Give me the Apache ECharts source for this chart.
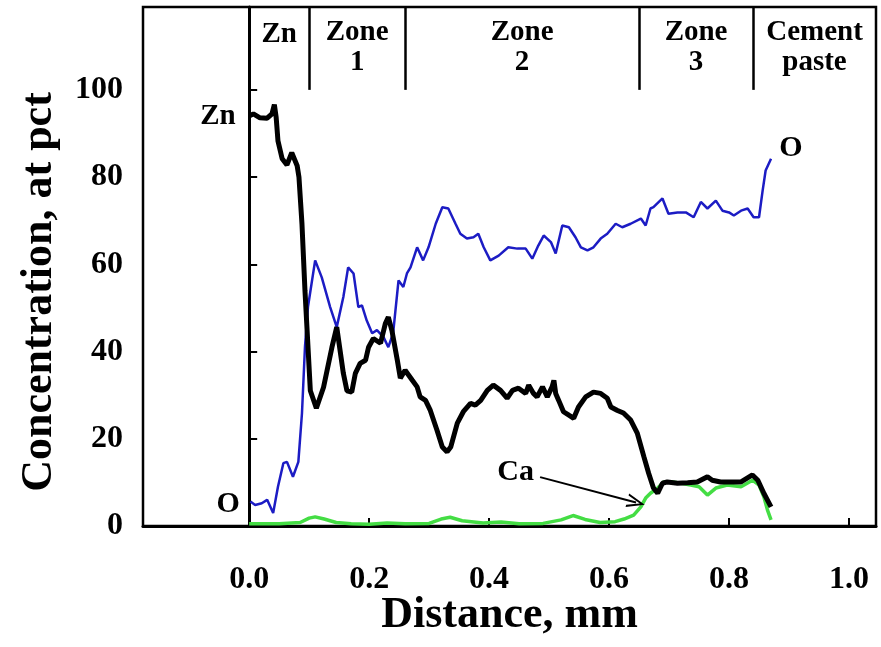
<!DOCTYPE html>
<html>
<head>
<meta charset="utf-8">
<script src="https://cdn.jsdelivr.net/npm/echarts@6/dist/echarts.min.js"></script>
<style>
  html, body { margin: 0; padding: 0; background: #fff; }
  #main { width: 881px; height: 647px; }
</style>
</head>
<body>
<div id="main"></div>
<script>
// ---- data read from the profile (distance in mm, concentration in at pct)
var znDist = [0, 0.007, 0.018, 0.03, 0.038, 0.042, 0.045, 0.048, 0.055, 0.063, 0.071, 0.08, 0.083, 0.088, 0.093,
  0.102, 0.112, 0.124, 0.138, 0.146, 0.157, 0.163, 0.171, 0.177, 0.185, 0.194, 0.199, 0.207, 0.219, 0.227, 0.232,
  0.238, 0.247, 0.252, 0.26, 0.272, 0.28, 0.285, 0.294, 0.302, 0.313, 0.322, 0.33, 0.336, 0.347, 0.357, 0.369,
  0.377, 0.386, 0.397, 0.407, 0.419, 0.43, 0.439, 0.449, 0.461, 0.466, 0.474, 0.48, 0.489, 0.497, 0.505, 0.508,
  0.511, 0.516, 0.524, 0.533, 0.541, 0.549, 0.561, 0.574, 0.586, 0.597, 0.603, 0.614, 0.624, 0.636, 0.647, 0.658,
  0.666, 0.674, 0.681, 0.689, 0.697, 0.714, 0.731, 0.747, 0.764, 0.772, 0.786, 0.803, 0.82, 0.839, 0.848, 0.858, 0.87];
var znConc = [94, 94.5, 93.6, 93.5, 94.5, 96.6, 93.7, 88.3, 84.2, 82.8, 85.6, 82.6, 80, 69.3, 54,
  31, 27, 31.8, 41, 45.6, 35, 31, 30.7, 35, 37.3, 38, 41, 43, 41.9, 46.4, 47.9,
  44.8, 38, 33.9, 35.7, 33.4, 31.9, 29.6, 28.8, 26.5, 22, 18.1, 17, 18.1, 23.6, 26.2, 28.1,
  27.7, 28.8, 31.1, 32.3, 31.1, 29.3, 31.1, 31.6, 30.4, 32.3, 30.4, 29.6, 31.9, 29.6, 31.9, 33.4,
  30.4, 28.8, 26.2, 25.4, 24.7, 27.3, 29.6, 30.7, 30.4, 29.3, 27.3, 26.5, 25.9, 24.3, 21.3, 15.9,
  12.1, 8.7, 7.5, 9.8, 10.1, 9.8, 9.9, 10.1, 11.3, 10.5, 10.1, 10.1, 10.1, 11.7, 10.5, 7.5, 4.4];

var oDist = [0.002, 0.01, 0.021, 0.03, 0.04, 0.048, 0.057, 0.063, 0.073, 0.082, 0.088, 0.093, 0.098, 0.11, 0.121,
  0.135, 0.146, 0.157, 0.165, 0.174, 0.182, 0.188, 0.196, 0.205, 0.213, 0.224, 0.232, 0.24, 0.249, 0.257, 0.263,
  0.269, 0.28, 0.29, 0.299, 0.311, 0.322, 0.332, 0.344, 0.352, 0.363, 0.374, 0.382, 0.391, 0.402, 0.416, 0.432,
  0.447, 0.461, 0.472, 0.482, 0.491, 0.503, 0.511, 0.522, 0.533, 0.544, 0.553, 0.564, 0.574, 0.586, 0.597, 0.611,
  0.622, 0.636, 0.653, 0.661, 0.669, 0.674, 0.689, 0.699, 0.714, 0.728, 0.741, 0.753, 0.764, 0.778, 0.789, 0.8,
  0.808, 0.82, 0.831, 0.841, 0.85, 0.856, 0.861, 0.87];
var oConc = [5.6, 4.8, 5.2, 6, 3, 9, 14.4, 14.7, 11.3, 14.7, 25.8, 41, 50.2, 60.9, 57,
  50.2, 45.6, 52.5, 59.3, 57.9, 50.2, 50.6, 47.1, 44.2, 44.9, 43.3, 41, 44.2, 56.3, 54.8, 57.9,
  59.3, 63.9, 60.9, 63.9, 69.3, 73.1, 72.8, 69.3, 67, 65.9, 66.2, 67, 63.9, 60.9, 62, 63.9,
  63.6, 63.6, 61.3, 64.3, 66.6, 65.1, 62.5, 68.9, 68.5, 66.2, 63.9, 63.2, 63.9, 65.9, 67, 69.3,
  68.5, 69.3, 70.5, 68.9, 72.8, 73.1, 75.1, 71.6, 71.9, 71.9, 70.8, 74.3, 72.8, 74.6, 72.3, 71.9,
  71.2, 72.3, 72.8, 70.8, 70.8, 76.9, 81.5, 84.2];

var caDist = [0, 0.05, 0.085, 0.1, 0.11, 0.125, 0.145, 0.17, 0.2, 0.23, 0.26, 0.3, 0.32, 0.335, 0.355,
  0.39, 0.42, 0.45, 0.49, 0.52, 0.54, 0.56, 0.585, 0.61, 0.625, 0.641, 0.653, 0.661, 0.669, 0.681,
  0.691, 0.706, 0.72, 0.736, 0.75, 0.764, 0.778, 0.797, 0.82, 0.839, 0.85, 0.858, 0.864, 0.87];
var caConc = [0.5, 0.5, 0.8, 1.8, 2.1, 1.6, 0.8, 0.5, 0.4, 0.7, 0.5, 0.6, 1.6, 2.0, 1.2,
  0.7, 0.9, 0.5, 0.6, 1.4, 2.4, 1.5, 0.8, 1.0, 1.6, 2.5, 4.4, 6.4, 7.5, 8.7,
  10.1, 10.1, 9.8, 9.4, 9, 7.1, 8.7, 9.4, 9, 10.5, 9.4, 6.7, 3.7, 1.4];

var xTicks = [0, 0.2, 0.4, 0.6, 0.8, 1.0];
var zoneBounds = [0, 0.1, 0.26, 0.65, 0.84];
var zoneNames = ['Zn', 'Zone\n1', 'Zone\n2', 'Zone\n3', 'Cement\npaste'];

var X_MIN = -0.177, X_MAX = 1.045, Y_MAX = 119;

function pairs(xs, ys) {
  return xs.map(function(x, i) { return [x, ys[i]]; });
}

var FONT = '"Liberation Serif", "Times New Roman", serif';

// zone header separators and titles
var sepLines = zoneBounds.map(function(b) {
  return [{ coord: [b, 100] }, { coord: [b, Y_MAX] }];
});
var zoneEdges = zoneBounds.concat([X_MAX]);
var zoneTitles = zoneNames.map(function(n, i) {
  var mid = (zoneEdges[i] + zoneEdges[i + 1]) / 2;
  var y = n.indexOf('\n') >= 0 ? 109.8 : 112.8;
  return { coord: [mid, y], value: n, label: { formatter: n } };
});

var labelStyle = {
  show: true, color: '#000', fontFamily: FONT, fontWeight: 'bold', fontSize: 30
};

// open arrow head (tip at top)
var openArrow = 'path://M5,0 L10,14 L8.4,14 L5,4 L1.6,14 L0,14 Z';

var chart = echarts.init(document.getElementById('main'));
var option = {
  backgroundColor: '#fff',
  animation: false,
  grid: {
    left: 143, right: 5, top: 7, bottom: 121, outerBoundsMode: 'none',
    show: true, borderColor: '#000', borderWidth: 2.5, backgroundColor: 'transparent'
  },
  xAxis: {
    type: 'value', min: X_MIN, max: X_MAX,
    name: 'Distance, mm', nameLocation: 'middle', nameGap: 68, nameMoveOverlap: false,
    nameTextStyle: { color: '#000', fontFamily: FONT, fontWeight: 'bold', fontSize: 44 },
    axisLine: { onZero: false, lineStyle: { color: '#000', width: 3 } },
    axisTick: { show: true, inside: true, length: 8, customValues: xTicks, lineStyle: { color: '#000', width: 2 } },
    axisLabel: {
      customValues: xTicks, margin: 38, color: '#000', fontFamily: FONT, fontWeight: 'bold', fontSize: 32,
      formatter: function(v) { return v.toFixed(1); }
    },
    splitLine: { show: false }
  },
  yAxis: {
    type: 'value', min: 0, max: Y_MAX, interval: 20,
    axisLine: { lineStyle: { color: '#000', width: 3 } },
    axisTick: { inside: true, length: 8, lineStyle: { color: '#000', width: 2 } },
    axisLabel: {
      margin: 20, color: '#000', fontFamily: FONT, fontWeight: 'bold', fontSize: 32,
      formatter: function(v) { return v > 100 ? '' : v; }
    },
    splitLine: { show: false }
  },
  graphic: [{
    type: 'text', x: 40, y: 292, rotation: Math.PI / 2,
    style: {
      text: 'Concentration, at pct', fill: '#000', font: 'bold 44px ' + FONT,
      textAlign: 'center', textVerticalAlign: 'middle'
    }
  }],
  series: [
    {
      name: 'Ca', type: 'line', data: pairs(caDist, caConc), showSymbol: false,
      lineStyle: { color: '#44dd44', width: 3.5 }, itemStyle: { color: '#44dd44' }, z: 2,
      markLine: {
        silent: true, symbol: ['none', openArrow], symbolSize: [14, 18],
        lineStyle: { color: '#000', width: 2, type: 'solid' }, label: { show: false },
        data: [[{ coord: [0.485, 11.2] }, { coord: [0.645, 5.4] }]]
      },
      markPoint: {
        symbol: 'circle', symbolSize: 0, silent: true,
        label: Object.assign({}, labelStyle, { position: 'left', formatter: 'Ca' }),
        data: [{ coord: [0.483, 12.4] }]
      }
    },
    {
      name: 'O', type: 'line', data: pairs(oDist, oConc), showSymbol: false,
      lineStyle: { color: '#1c1cc4', width: 2.5 }, itemStyle: { color: '#1c1cc4' }, z: 3,
      markPoint: {
        symbol: 'circle', symbolSize: 0, silent: true,
        label: Object.assign({}, labelStyle, { formatter: 'O' }),
        data: [
          { coord: [-0.035, 5], label: { position: 'inside' } },
          { coord: [0.903, 86.5], label: { position: 'inside' } }
        ]
      }
    },
    {
      name: 'Zn', type: 'line', data: pairs(znDist, znConc), showSymbol: false,
      lineStyle: { color: '#000', width: 5 }, itemStyle: { color: '#000' }, z: 4,
      markLine: {
        silent: true, symbol: 'none', label: { show: false },
        lineStyle: { color: '#000', width: 2.5, type: 'solid' },
        data: sepLines
      },
      markPoint: {
        symbol: 'circle', symbolSize: 0, silent: true,
        label: Object.assign({}, labelStyle, { position: 'inside', fontSize: 29, lineHeight: 30 }),
        data: zoneTitles.concat([{ coord: [-0.052, 94], label: { formatter: 'Zn' } }])
      }
    }
  ]
};
chart.setOption(option);
</script>
</body>
</html>
